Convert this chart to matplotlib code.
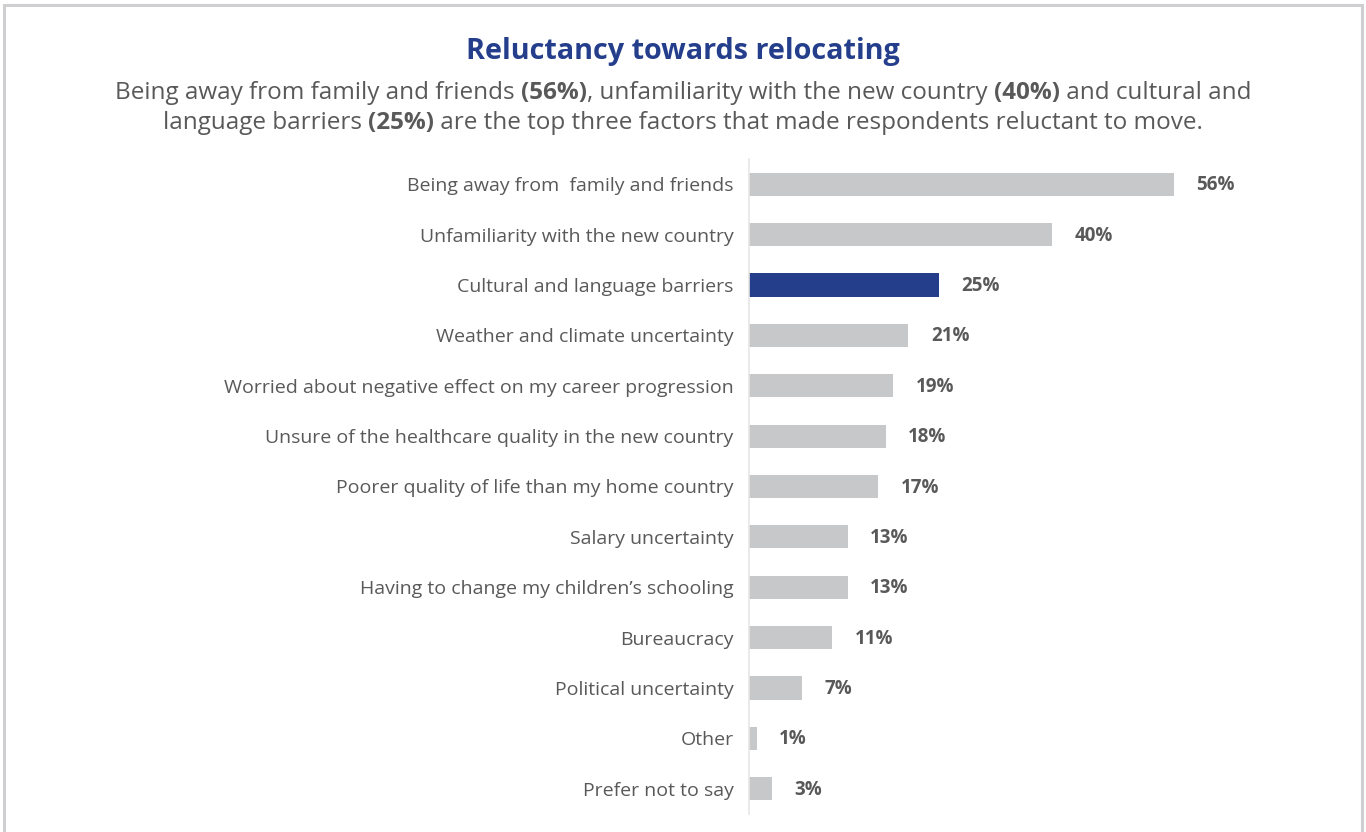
import matplotlib
matplotlib.use("Agg")
import matplotlib.pyplot as plt
from matplotlib.patches import Rectangle

plt.rcParams['font.family'] = ['Open Sans', 'DejaVu Sans']

# ------------------ Data ------------------
factors = [
    "Being away from  family and friends",
    "Unfamiliarity with the new country",
    "Cultural and language barriers",
    "Weather and climate uncertainty",
    "Worried about negative effect on my career progression",
    "Unsure of the healthcare quality in the new country",
    "Poorer quality of life than my home country",
    "Salary uncertainty",
    "Having to change my children\u2019s schooling",
    "Bureaucracy",
    "Political uncertainty",
    "Other",
    "Prefer not to say",
]
shares = [56, 40, 25, 21, 19, 18, 17, 13, 13, 11, 7, 1, 3]
highlight = "Cultural and language barriers"

title = "Reluctancy towards relocating"
subtitle_lines = [
    [("Being away from family and friends ", "normal"), ("(56%)", "bold"),
     (", unfamiliarity with the new country ", "normal"), ("(40%)", "bold"),
     (" and cultural and", "normal")],
    [("language barriers ", "normal"), ("(25%)", "bold"),
     (" are the top three factors that made respondents reluctant to move.", "normal")],
]

GREY = "#c7c8ca"
NAVY = "#243e8c"
TEXT = "#595959"

W, H = 1366, 832
fig = plt.figure(figsize=(W / 100, H / 100), dpi=100)
fig.patch.set_facecolor("white")

# frame round the panel (bottom edge runs off the canvas)
fig.add_artist(Rectangle((4 / W, -0.05), (1362 - 4) / W, 1.05 - 5 / H,
                         transform=fig.transFigure, fill=False,
                         edgecolor="#cfcfd1", linewidth=2.2))

# ------------------ Bars ------------------
ax = fig.add_axes([749 / W, 1 - 814 / H, 455 / W, 655 / H])
ypos = list(range(len(factors)))
colors = [NAVY if f == highlight else GREY for f in factors]
ax.barh(ypos, shares, height=0.46, color=colors)
ax.set_xlim(0, 60)
ax.set_ylim(len(factors) - 0.5, -0.5)
ax.set_yticks(ypos)
ax.set_yticklabels(factors, fontsize=14, color=TEXT)
ax.tick_params(axis="y", length=0, pad=11)
ax.set_xticks([])
for s in ["top", "right", "bottom"]:
    ax.spines[s].set_visible(False)
ax.spines["left"].set_color("#e6e6e6")
ax.spines["left"].set_linewidth(1.2)

for y, v in zip(ypos, shares):
    ax.text(v + 3.0, y + 0.02, f"{v}%", va="center", ha="left",
            fontsize=13.5, fontweight="bold", color=TEXT)

# ------------------ Titles ------------------
fig.text(0.5, 1 - 51 / H, title, ha="center", va="center",
         fontsize=20.7, fontweight="bold", color=NAVY)

# subtitle with bold figures: lay the pieces out side by side, centred
renderer = fig.canvas.get_renderer()
for i, parts in enumerate(subtitle_lines):
    y = 1 - (93 + 30 * i) / H
    pieces = []
    for txt, wt in parts:
        t = fig.text(0, y, txt, ha="left", va="center", fontsize=17.5,
                     fontweight=wt, color=TEXT)
        pieces.append(t)
    widths = [p.get_window_extent(renderer).width for p in pieces]
    x = (W - sum(widths)) / 2
    for p, w in zip(pieces, widths):
        p.set_x(x / W)
        x += w

fig.savefig("out.png", dpi=100, facecolor="white")
